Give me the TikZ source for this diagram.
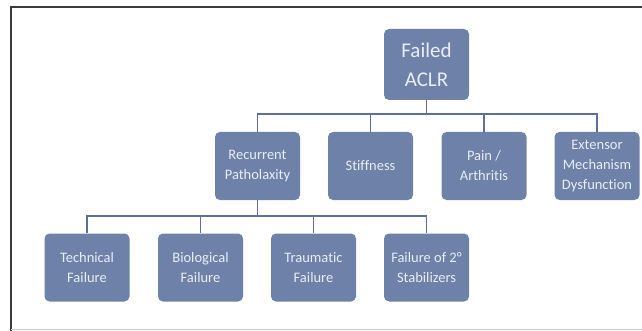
\documentclass[tikz,border=0pt]{standalone}
\usepackage{fontspec}
\setmainfont{Carlito}[Ligatures=NoCommon]
\usetikzlibrary{positioning,calc}
\definecolor{boxfill}{HTML}{6E82A9}
\definecolor{boxtext}{HTML}{E9EDF5}
\definecolor{linkc}{HTML}{5E7099}
\definecolor{frame}{HTML}{3C3C3C}
\definecolor{framelight}{HTML}{C9C9C9}
\tikzset{
  box/.style={fill=boxfill, rounded corners=5pt, align=center, text=boxtext, inner sep=0pt,
    minimum width=85pt, minimum height=68pt, font=\fontsize{14.5}{20}\selectfont},
  topbox/.style={box, minimum height=71pt, font=\fontsize{21}{29}\selectfont},
  link/.style={draw=linkc, line width=1.6pt},
}

\begin{document}
\begin{tikzpicture}[x=1pt, y=-1pt]
    \useasboundingbox (0,0) rectangle (642,331);
    % frame
    \draw[frame, line width=1.8pt] (642,7) -- (11,7) -- (11,331);
    \draw[framelight, line width=1.2pt] (11,329.5) -- (642,329.5);
    % row 1
    \node[topbox] (aclr) at (426.5, 64.5) {Failed\\ACLR};
    % row 2
    \node[box] (rec)  at (257.5, 166) {Recurrent\\Patholaxity};
    \node[box] (stif) at (370.5, 166) {Stiffness};
    \node[box] (pain) at (484, 166)   {Pain /\\Arthritis};
    \node[box] (ext)  at (597, 166)   {Extensor\\Mechanism\\Dysfunction};
    % row 3
    \node[box] (tech) at (87, 267.5)    {Technical\\Failure};
    \node[box] (bio)  at (200.5, 267.5) {Biological\\Failure};
    \node[box] (trau) at (313.5, 267.5) {Traumatic\\Failure};
    \node[box] (stab) at (426.5, 267.5) {Failure of 2\textdegree\\Stabilizers};
    % links
    \foreach \c in {rec,stif,pain,ext}
      \draw[link] (aclr.south) -- ++(0,14) -| (\c.north);
    \foreach \c in {tech,bio,trau,stab}
      \draw[link] (rec.south) -- ++(0,16) -| (\c.north);
\end{tikzpicture}
\end{document}
